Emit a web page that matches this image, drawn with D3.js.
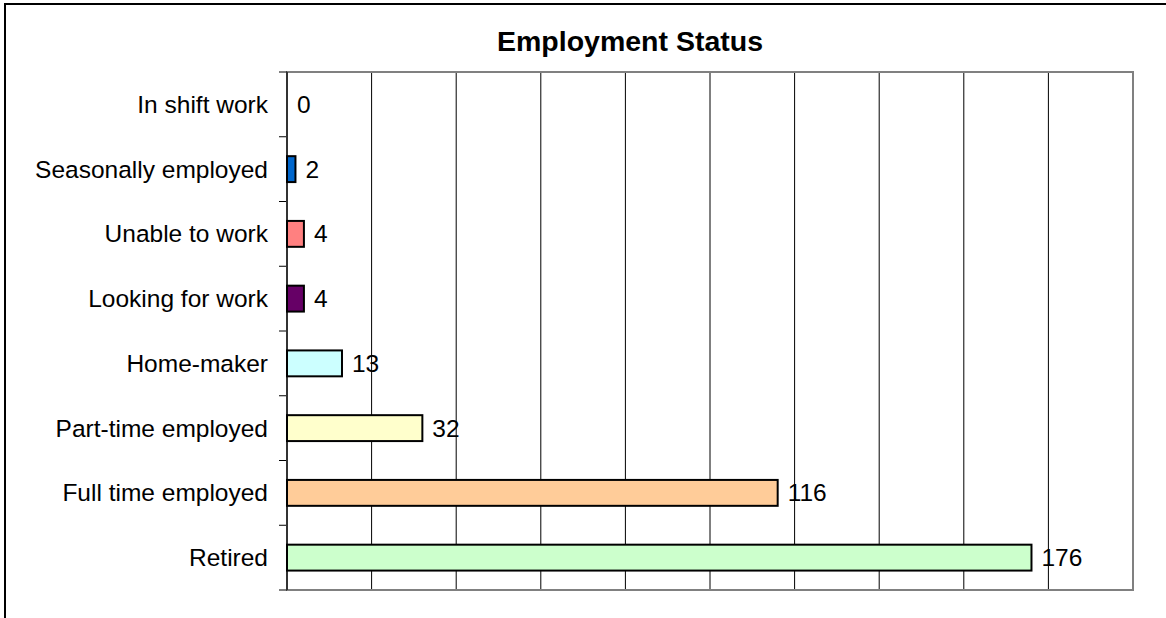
<!DOCTYPE html>
<html>
<head>
<meta charset="utf-8">
<script src="https://cdn.jsdelivr.net/npm/d3@7"></script>
<style>
  body { margin: 0; background: #fff; }
  text { font-family: "Liberation Sans", Arial, sans-serif; }
</style>
</head>
<body>
<div id="chart"></div>
<script>
// data
var categories = ["In shift work", "Seasonally employed", "Unable to work", "Looking for work",
                  "Home-maker", "Part-time employed", "Full time employed", "Retired"];
var counts = [0, 2, 4, 4, 13, 32, 116, 176];
var barColors = ["#808080", "#0066CC", "#FF8080", "#660066", "#CCFFFF", "#FFFFCC", "#FFCC99", "#CCFFCC"];
var xTicks = [0, 20, 40, 60, 80, 100, 120, 140, 160, 180, 200];
var chartTitle = "Employment Status";

var svgWidth = 1166, svgHeight = 618;
var margin = { top: 72, right: 33, bottom: 28, left: 287 };
var width = svgWidth - margin.left - margin.right;
var height = svgHeight - margin.top - margin.bottom;
var labelFont = "24.5px";

var svg = d3.select("#chart").append("svg")
    .attr("width", svgWidth)
    .attr("height", svgHeight);

// outer chart frame (runs off the right and bottom edges)
svg.append("rect")
    .attr("x", 5).attr("y", 4)
    .attr("width", svgWidth + 20).attr("height", svgHeight + 20)
    .attr("fill", "none")
    .attr("stroke", "#000")
    .attr("stroke-width", 2);

svg.append("text")
    .attr("x", 630)
    .attr("y", 51)
    .attr("text-anchor", "middle")
    .attr("font-size", "28.5px")
    .attr("font-weight", "bold")
    .text(chartTitle);

var g = svg.append("g")
    .attr("transform", "translate(" + margin.left + "," + margin.top + ")");

var x = d3.scaleLinear()
    .domain([0, 200])
    .range([0, width]);

var y = d3.scaleBand()
    .domain(categories)
    .range([0, height])
    .paddingInner(0.6)
    .paddingOuter(0.3);

// vertical gridlines
g.append("g")
    .selectAll("line")
    .data(xTicks.slice(1, -1))
    .enter().append("line")
    .attr("x1", function(d) { return x(d); })
    .attr("x2", function(d) { return x(d); })
    .attr("y1", 0)
    .attr("y2", height)
    .attr("stroke", "#000")
    .attr("stroke-width", 1);

// plot area border
g.append("rect")
    .attr("x", 0).attr("y", 0)
    .attr("width", width).attr("height", height)
    .attr("fill", "none")
    .attr("stroke", "#808080")
    .attr("stroke-width", 2);

// category boundary ticks on the left axis
var step = height / categories.length;
var tickYs = d3.range(categories.length + 1).map(function(i) { return i * step; });
g.append("g")
    .selectAll("line")
    .data(tickYs)
    .enter().append("line")
    .attr("x1", -8).attr("x2", 0)
    .attr("y1", function(d) { return d; })
    .attr("y2", function(d) { return d; })
    .attr("stroke", "#000")
    .attr("stroke-width", 1);

g.append("line")
    .attr("x1", 0).attr("x2", 0)
    .attr("y1", 0).attr("y2", height)
    .attr("stroke", "#333")
    .attr("stroke-width", 2);

// category labels
g.append("g")
    .selectAll("text")
    .data(categories)
    .enter().append("text")
    .attr("x", -19)
    .attr("y", function(d) { return y(d) + y.bandwidth() / 2; })
    .attr("dy", "0.35em")
    .attr("text-anchor", "end")
    .attr("font-size", labelFont)
    .attr("fill", "#000")
    .text(function(d) { return d; });

// bars
g.append("g")
    .selectAll("rect")
    .data(counts)
    .enter().append("rect")
    .attr("x", 0)
    .attr("y", function(d, i) { return y(categories[i]); })
    .attr("width", function(d) { return x(d); })
    .attr("height", y.bandwidth())
    .attr("fill", function(d, i) { return barColors[i]; })
    .attr("stroke", "#000")
    .attr("stroke-width", 2);

// value labels
g.append("g")
    .selectAll("text")
    .data(counts)
    .enter().append("text")
    .attr("x", function(d) { return x(d) + 10; })
    .attr("y", function(d, i) { return y(categories[i]) + y.bandwidth() / 2; })
    .attr("dy", "0.35em")
    .attr("font-size", labelFont)
    .attr("fill", "#000")
    .text(function(d) { return d; });
</script>
</body>
</html>
